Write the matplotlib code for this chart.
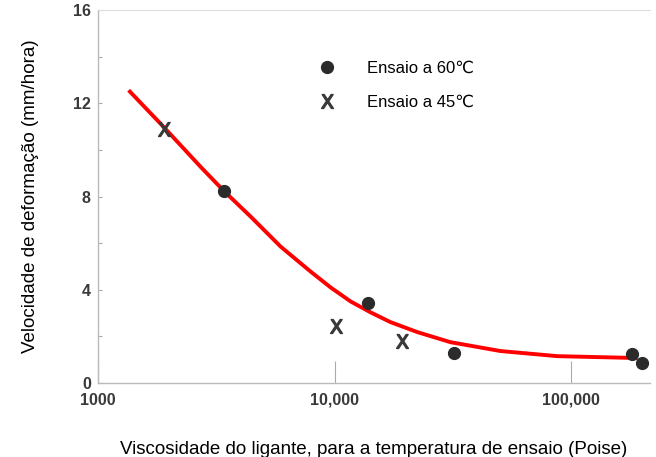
import matplotlib
matplotlib.use("Agg")
import matplotlib.pyplot as plt
from matplotlib.ticker import FixedLocator, FixedFormatter, MultipleLocator

plt.rcParams['font.family'] = ['Liberation Sans', 'DejaVu Sans']

# ensaios a 60 C (circulos)
visc_60 = [3400, 13800, 32000, 181000, 199000]
vel_60 = [8.25, 3.45, 1.28, 1.24, 0.85]

# ensaios a 45 C (X)
visc_45 = [1900, 10100, 19200]
vel_45 = [10.9, 2.45, 1.8]

# curva ajustada
curve_visc = [1350, 1900, 2720, 3400, 4420, 5920, 7920, 9620, 11680,
              14190, 17230, 22400, 30860, 50170, 87300, 190000]
curve_vel = [12.56, 10.98, 9.27, 8.25, 7.14, 5.85, 4.78, 4.10, 3.50,
             3.03, 2.61, 2.18, 1.75, 1.37, 1.15, 1.07]

x_ticks = [1000, 10000, 100000]
x_ticklabels = ["1000", "10,000", "100,000"]
y_ticks = [0, 4, 8, 12, 16]

fig = plt.figure(figsize=(6.56, 4.57), dpi=100)
ax = fig.add_axes([0.149, 0.162, 0.842, 0.816])

ax.plot(curve_visc, curve_vel, color="#ff0000", lw=2.8, zorder=2,
        solid_joinstyle="round", solid_capstyle="butt")
ax.plot(visc_60, vel_60, linestyle="none", marker="o", ms=8.5,
        color="#2b2b2b", label="Ensaio a 60\u2103", zorder=3)
ax.plot(visc_45, vel_45, linestyle="none", marker=r"$\mathrm{X}$", ms=10,
        color="#383838", label="Ensaio a 45\u2103", zorder=3)

ax.set_xscale("log")
ax.set_xlim(1000, 215000)
ax.set_ylim(0, 16)

ax.xaxis.set_major_locator(FixedLocator(x_ticks))
ax.xaxis.set_major_formatter(FixedFormatter(x_ticklabels))
ax.xaxis.set_minor_locator(FixedLocator([]))
ax.tick_params(axis="x", which="major", direction="in", length=16,
               color="#aaaaaa", width=0.8, labelsize=11.5, pad=7)
ax.set_yticks(y_ticks)
ax.yaxis.set_minor_locator(MultipleLocator(2))
ax.tick_params(axis="y", which="both", direction="in", length=3,
               color="#aaaaaa", width=0.8, labelsize=11.5, pad=5)
for lbl in ax.get_xticklabels() + ax.get_yticklabels():
    lbl.set_fontweight("bold")
    lbl.set_color("#3a3a3a")

for side in ["left", "bottom"]:
    ax.spines[side].set_color("#bbbbbb")
    ax.spines[side].set_linewidth(1.0)
ax.spines["top"].set_color("#dddddd")
ax.spines["right"].set_visible(False)

ax.set_xlabel("Viscosidade do ligante, para a temperatura de ensaio (Poise)",
              fontsize=13.5, labelpad=24)
ax.set_ylabel("Velocidade de deformação (mm/hora)", fontsize=13.5, labelpad=24)

ax.legend(loc="upper left", bbox_to_anchor=(0.365, 0.905), frameon=False,
          fontsize=12, handletextpad=1.65, labelspacing=1.15, handlelength=1.5)

fig.savefig("out.png", dpi=100)
